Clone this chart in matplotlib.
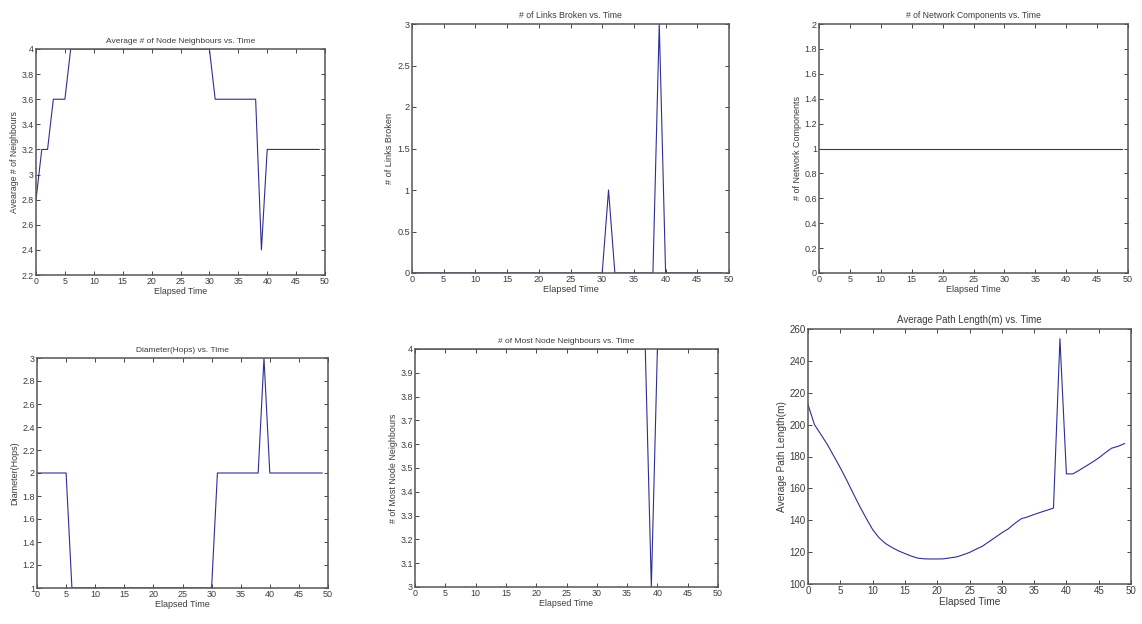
import matplotlib.pyplot as plt
import numpy as np
from matplotlib.ticker import FormatStrFormatter

plt.rcParams['font.family'] = ['Liberation Sans', 'DejaVu Sans']

# elapsed time steps
t = np.arange(0, 50)

# average # of node neighbours
avg_nb = [2.8, 3.2, 3.2, 3.6, 3.6, 3.6] + [4.0] * 25 + [3.6] * 8 + [2.4] + [3.2] * 10

# links broken
links_broken = [0] * 31 + [1] + [0] * 7 + [3] + [0] * 10

# network components
components = [1] * 50

# diameter (hops)
diameter = [2] * 6 + [1] * 25 + [2] * 8 + [3] + [2] * 10

# most node neighbours
most_nb = [4] * 39 + [3] + [4] * 10

# average path length (m)
path_len = [212.6, 200.0, 193.8, 187.5, 180.2, 172.9, 165.1, 156.8, 148.8, 141.3,
            134.2, 129.0, 125.4, 122.9, 120.8, 119.1, 117.5, 116.2, 115.8, 115.7,
            115.7, 115.8, 116.4, 117.0, 118.3, 119.8, 121.8, 123.7, 126.5, 129.3,
            132.1, 134.6, 138.0, 140.9, 142.1, 143.6, 145.0, 146.3, 147.6, 253.9,
            169.1, 169.1, 171.4, 173.9, 176.4, 179.1, 182.3, 185.2, 186.4, 188.1]

W, H = 1142, 624
fig = plt.figure(figsize=(W / 100, H / 100), dpi=100)

txt = '#3c3c3c'
line_c = '#2e2e96'


def panel(px, y, ylim, yticks, title, ylabel, fs=6.3, tfs=6.0, lfs=None):
    l, r, top, bot = px
    ax = fig.add_axes([l / W, 1 - bot / H, (r - l) / W, (bot - top) / H])
    ax.plot(t, y, color=line_c, lw=0.8)
    ax.set_xlim(0, 50)
    ax.set_ylim(*ylim)
    ax.set_xticks(np.arange(0, 51, 5))
    ax.set_yticks(yticks)
    ax.yaxis.set_major_formatter(FormatStrFormatter('%g'))
    ax.tick_params(direction='in', length=3, width=0.7, top=True, right=True,
                   labelsize=fs, colors='#444444', labelcolor=txt, pad=1.5)
    for s in ax.spines.values():
        s.set_color('#555555')
        s.set_linewidth(1.1)
    lfs = lfs or fs
    ax.set_title(title, fontsize=tfs, color=txt, pad=4)
    ax.set_xlabel('Elapsed Time', fontsize=lfs, color=txt, labelpad=1)
    ax.set_ylabel(ylabel, fontsize=lfs, color=txt, labelpad=2)
    return ax


panel((36, 325, 49, 275), avg_nb, (2.2, 4), np.arange(2.2, 4.01, 0.2),
      'Average # of Node Neighbours vs. Time', 'Avearage # of Neighbours')
panel((412, 729, 24, 273), links_broken, (0, 3), np.arange(0, 3.01, 0.5),
      '# of Links Broken vs. Time', '# of Links Broken', fs=6.6, tfs=6.3)
panel((819, 1128, 24, 273), components, (0, 2), np.arange(0, 2.01, 0.2),
      '# of Network Components vs. Time', '# of Network Components', fs=6.5, tfs=6.2)
panel((37, 328, 358, 588), diameter, (1, 3), np.arange(1, 3.01, 0.2),
      'Diameter(Hops) vs. Time', 'Diameter(Hops)', fs=6.5)
panel((415, 718, 349, 587), most_nb, (3, 4), np.arange(3, 4.01, 0.1),
      '# of Most Node Neighbours vs. Time', '# of Most Node Neighbours', fs=6.4)
panel((808, 1131, 329, 584), path_len, (100, 260), np.arange(100, 261, 20),
      'Average Path Length(m) vs. Time', 'Average Path Length(m)', fs=7.0, tfs=7.0, lfs=7.3)

fig.savefig('out.png', dpi=100, facecolor='white')
